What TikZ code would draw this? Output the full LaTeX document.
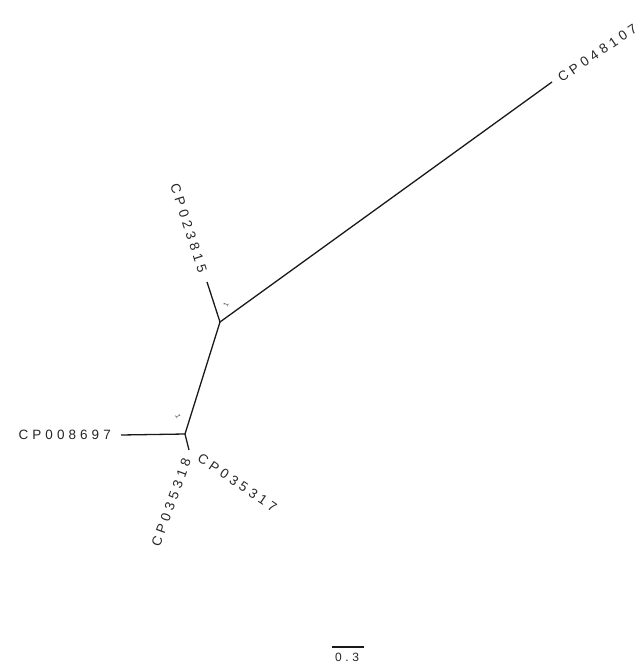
\documentclass[tikz,border=0pt]{standalone}
\usepackage{fontspec}
\setmainfont{Liberation Sans}
\newfontfamily\tipfont[LetterSpace=30]{Liberation Sans}
\usetikzlibrary{positioning}
\definecolor{ink}{gray}{0.10}
\definecolor{tiptext}{gray}{0.15}
\definecolor{mid}{gray}{0.30}

\begin{document}
\begin{tikzpicture}[x=1pt, y=-1pt,
  branch/.style={draw=ink, line width=1.3pt},
  tip/.style={inner sep=0pt, text=tiptext, font=\fontsize{13.5}{15}\tipfont},
  support/.style={inner sep=0pt, text=mid, font=\fontsize{7}{8}\selectfont}]
\useasboundingbox (0,0) rectangle (641,671);

% internal nodes of the tree
\coordinate (inA) at (220,322);
\coordinate (inB) at (185,434);
\coordinate (inC) at (189,450);
% leaf ends
\coordinate (lf048107) at (552,82);
\coordinate (lf023815) at (207,282);
\coordinate (lf008697) at (121,435);

\draw[branch] (inA) -- (lf048107);
\draw[branch] (inA) -- (lf023815);
\draw[branch] (inA) -- (inB);
\draw[branch] (inB) -- (lf008697);
\draw[branch] (inB) -- (inC);

% tip labels, rotated along their branches
\node[tip, anchor=west, rotate=34] (t048107) at (559,79) {CP048107};
\node[tip, anchor=east, rotate=-72] (t023815) at (203,272) {CP023815};
\node[tip, anchor=east] (t008697) at (111,435) {CP008697};
\node[tip, anchor=east, rotate=70] (t035318) at (187,459) {CP035318};
\node[tip, anchor=west, rotate=-34] (t035317) at (199,457) {CP035317};

% support values
\node[support, rotate=65] (sA) at (226,305) {1};
\node[support, rotate=-68] (sB) at (178,416) {1};

% scale bar
\coordinate (sbL) at (332,647);
\coordinate (sbR) at (364,647);
\coordinate (sbM) at (347,647);
\draw[branch] (sbL) -- (sbR);
\node[tip, font=\fontsize{12}{14}\tipfont, below=6pt of sbM] (sblabel) {0.3};
\end{tikzpicture}
\end{document}
